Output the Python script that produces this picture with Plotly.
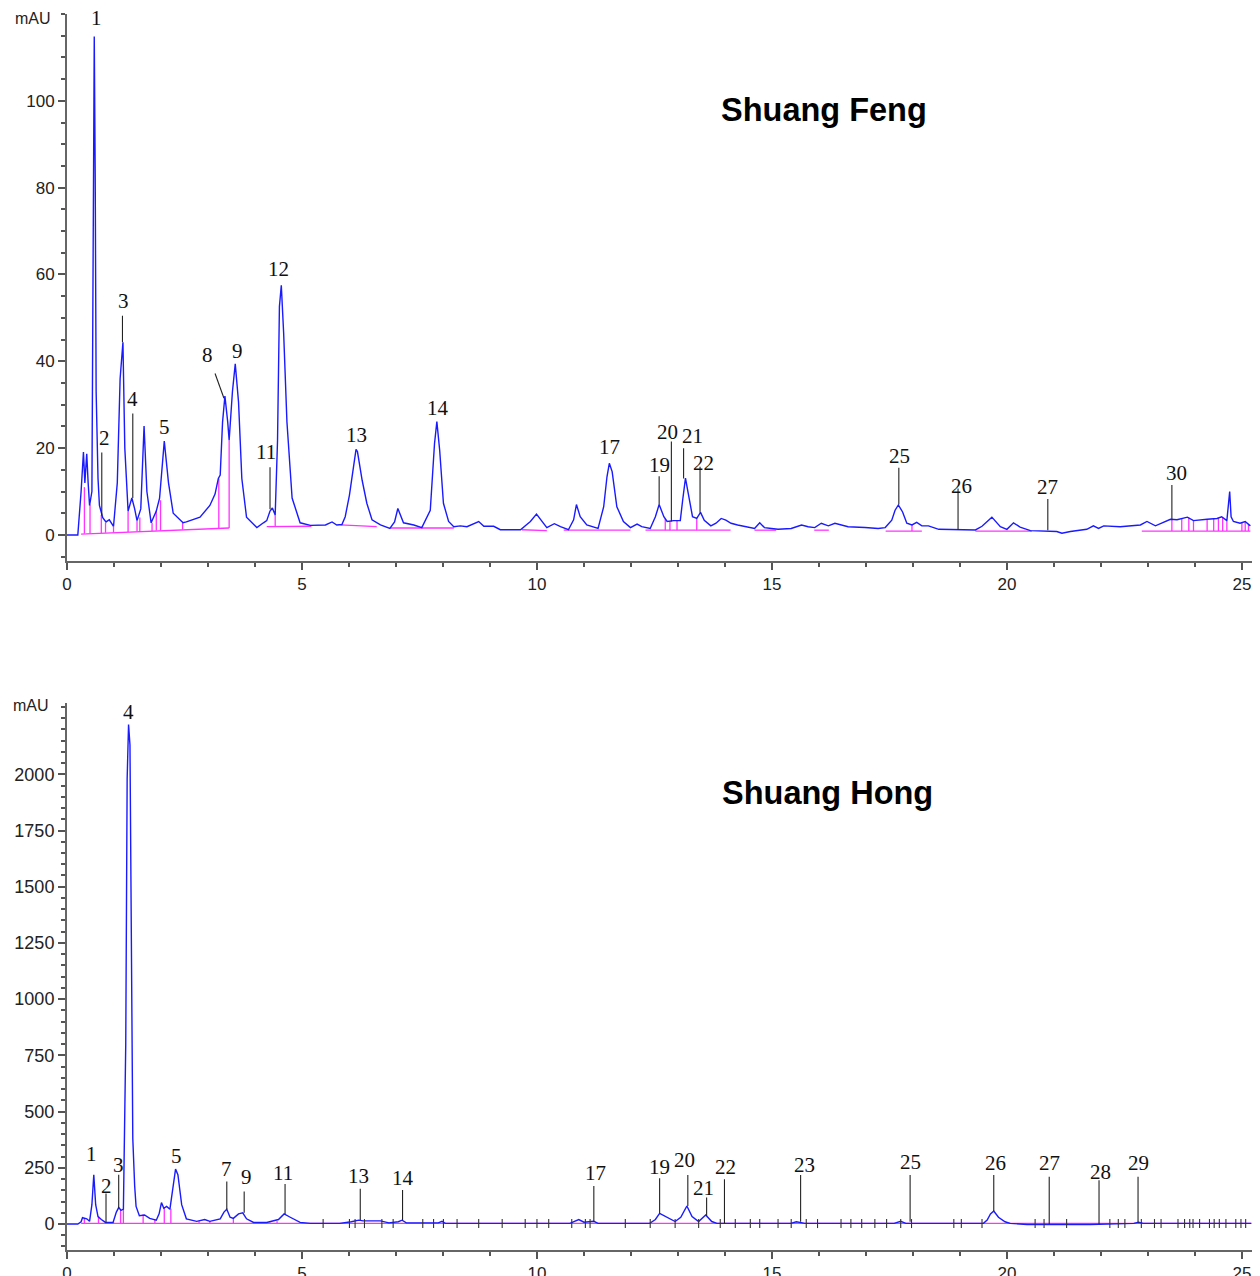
import plotly.graph_objects as go

# ---------------- Top chromatogram: Shuang Feng ----------------
top_t = [0.00, 0.23, 0.30, 0.35, 0.38, 0.42, 0.45, 0.48, 0.53, 0.56, 0.58, 0.60, 0.62, 0.66, 0.69,
         0.76, 0.83, 0.90, 0.99, 1.07, 1.13, 1.19, 1.23, 1.30, 1.38, 1.44, 1.49, 1.57, 1.64, 1.70,
         1.79, 1.90, 1.97, 2.07, 2.16, 2.26, 2.47, 2.54, 2.83, 3.04, 3.15, 3.22, 3.26, 3.31, 3.36,
         3.42, 3.45, 3.52, 3.58, 3.65, 3.72, 3.82, 4.04, 4.18, 4.25, 4.32, 4.37, 4.43, 4.48, 4.52,
         4.56, 4.61, 4.68, 4.79, 4.96, 5.18, 5.50, 5.64, 5.74, 5.85, 5.92, 6.01, 6.10, 6.15, 6.18,
         6.28, 6.38, 6.49, 6.67, 6.87, 6.97, 7.04, 7.16, 7.38, 7.55, 7.73, 7.82, 7.87, 7.93, 8.01,
         8.12, 8.23, 8.37, 8.51, 8.76, 8.87, 9.08, 9.22, 9.65, 9.86, 9.99, 10.11, 10.21, 10.37, 10.50,
         10.67, 10.78, 10.84, 10.92, 11.06, 11.30, 11.42, 11.49, 11.54, 11.60, 11.70, 11.84, 11.99,
         12.13, 12.23, 12.41, 12.52, 12.60, 12.70, 12.77, 12.91, 13.05, 13.10, 13.16, 13.22, 13.31,
         13.40, 13.48, 13.56, 13.70, 13.81, 13.92, 14.02, 14.13, 14.27, 14.42, 14.63, 14.74, 14.84,
         14.99, 15.13, 15.41, 15.63, 15.77, 15.91, 16.05, 16.20, 16.34, 16.62, 16.98, 17.26, 17.41,
         17.55, 17.62, 17.69, 17.78, 17.87, 17.98, 18.08, 18.19, 18.33, 18.55, 18.97, 19.33, 19.47,
         19.68, 19.86, 20.00, 20.14, 20.28, 20.50, 21.06, 21.17, 21.35, 21.70, 21.84, 21.95, 22.06,
         22.41, 22.84, 22.98, 23.16, 23.48, 23.62, 23.84, 23.97, 24.26, 24.47, 24.57, 24.68, 24.74,
         24.77, 24.82, 24.96, 25.07, 25.18]
top_v = [0.0, 0.0, 10.0, 19.1, 12.0, 18.7, 12.0, 6.8, 10.0, 64.0, 114.8, 83.0, 33.0, 13.0, 6.8,
         4.0, 3.0, 3.5, 2.0, 12.0, 36.0, 44.4, 20.0, 5.5, 8.5, 6.0, 3.3, 6.0, 25.1, 10.0,
         2.8, 5.5, 8.5, 21.6, 12.0, 5.0, 2.8, 3.0, 4.1, 6.8, 9.4, 13.0, 13.8, 26.0, 32.0,
         26.0, 21.8, 33.0, 39.4, 30.6, 13.0, 4.1, 1.7, 2.8, 3.3, 5.5, 6.2, 4.6, 21.8, 52.6,
         57.5, 46.5, 26.0, 8.5, 2.8, 2.2, 2.3, 3.0, 2.3, 2.4, 4.2, 9.2, 15.7, 19.7, 19.2,
         12.6, 7.3, 3.5, 2.3, 1.5, 3.0, 6.1, 2.8, 2.3, 1.7, 5.7, 21.0, 26.1, 19.5, 7.3,
         3.1, 1.9, 2.1, 1.9, 3.1, 2.0, 2.0, 1.2, 1.2, 3.1, 4.8, 3.1, 1.7, 2.6, 1.9,
         1.2, 3.5, 7.0, 4.2, 2.3, 1.5, 6.5, 13.4, 16.5, 14.6, 6.5, 3.1, 1.7,
         2.5, 1.9, 1.5, 4.2, 7.0, 4.2, 3.1, 3.3, 3.3, 8.0, 13.1, 9.5, 4.2,
         3.8, 5.2, 3.4, 2.1, 2.7, 3.8, 3.4, 2.7, 2.3, 1.9, 1.5, 2.8, 1.7,
         1.5, 1.3, 1.5, 2.3, 1.9, 1.7, 2.7, 2.1, 2.7, 1.9, 1.7, 1.5, 1.7,
         3.4, 5.7, 6.9, 5.3, 2.7, 2.3, 2.9, 2.1, 2.1, 1.3, 1.2, 1.15, 2.0,
         4.1, 1.9, 1.3, 2.8, 1.8, 1.0, 0.8, 0.4, 0.8, 1.3, 2.1, 1.5, 2.1,
         1.9, 2.3, 3.1, 2.1, 3.6, 3.5, 4.1, 3.3, 3.6, 3.8, 4.2, 3.3, 10.0,
         4.2, 3.1, 2.7, 3.1, 2.1]

# integration baseline segments (start, end) with heights
top_base_x0 = [0.30, 4.25, 5.82, 6.88, 9.68, 10.57, 12.31, 14.63, 15.90, 17.42, 19.33, 22.87]
top_base_x1 = [3.45, 5.20, 6.59, 8.23, 10.21, 11.99, 14.12, 15.09, 16.21, 18.19, 20.53, 25.18]
top_base_y0 = [0.2, 1.9, 2.3, 1.6, 1.2, 1.1, 1.1, 1.1, 1.1, 0.9, 0.9, 0.9]
top_base_y1 = [1.6, 2.0, 1.9, 1.6, 1.0, 1.1, 1.1, 1.1, 1.1, 0.9, 0.9, 0.9]

# peak delimiters (drop lines)
top_drop_x = [0.37, 0.49, 0.73, 0.82, 0.99, 1.30, 1.49, 1.55, 1.81, 1.90, 1.99, 2.46, 3.23, 3.45,
              4.43, 12.73, 12.83, 12.98, 13.40, 17.98,
              23.51, 23.72, 23.87, 23.97, 24.26, 24.40, 24.50, 24.59, 24.68, 25.00, 25.07, 25.14]
top_drop_lo = [0.3, 0.35, 0.45, 0.5, 0.55, 0.7, 0.8, 0.8, 0.9, 1.0, 1.0, 1.2, 1.5, 1.6,
               1.9, 1.1, 1.1, 1.1, 1.1, 0.9,
               0.9, 0.9, 0.9, 0.9, 0.9, 0.9, 0.9, 0.9, 0.9, 0.9, 0.9, 0.9]
top_drop_hi = [11.0, 7.0, 4.6, 2.8, 2.0, 5.5, 3.3, 4.0, 2.8, 5.5, 8.0, 2.8, 13.0, 21.8,
               4.6, 3.8, 3.2, 3.3, 3.8, 2.3,
               3.6, 3.7, 4.0, 3.3, 3.6, 3.7, 3.9, 4.1, 3.3, 2.8, 3.1, 2.5]

# peak labels and leader lines
top_lab = ["1", "2", "3", "4", "5", "8", "9", "11", "12", "13", "14", "17", "19", "20", "21", "22",
           "25", "26", "27", "30"]
top_lab_x = [0.62, 0.79, 1.21, 1.40, 2.08, 3.00, 3.62, 4.23, 4.51, 6.15, 7.89, 11.55, 12.60, 12.77,
             13.30, 13.55, 17.72, 19.04, 20.87, 23.60]
top_lab_y = [119.0, 22.4, 54.0, 31.3, 24.9, 41.5, 42.4, 19.1, 61.3, 23.0, 29.3, 20.3, 16.1, 23.7,
             22.8, 16.6, 18.2, 11.3, 11.0, 14.3]
top_lead_x0 = [None, 0.74, 1.18, 1.40, None, 3.15, None, 4.32, None, None, None, None, 12.60, 12.86,
               13.12, 13.47, 17.70, 18.96, 20.87, 23.51]
top_lead_x1 = [None, 0.74, 1.18, 1.40, None, 3.34, None, 4.32, None, None, None, None, 12.60, 12.86,
               13.12, 13.47, 17.70, 18.96, 20.87, 23.51]
top_lead_y0 = [None, 19.0, 50.5, 28.0, None, 37.2, None, 15.6, None, None, None, None, 13.5, 21.5,
               20.0, 15.7, 15.5, 10.7, 8.3, 11.5]
top_lead_y1 = [None, 4.5, 44.4, 8.5, None, 31.5, None, 5.9, None, None, None, None, 7.0, 3.1,
               13.0, 5.2, 7.0, 1.15, 1.1, 3.6]

# ---------------- Bottom chromatogram: Shuang Hong ----------------
bot_t = [0.00, 0.23, 0.30, 0.33, 0.42, 0.48, 0.53, 0.57, 0.61, 0.66, 0.73, 0.82, 0.98, 1.05, 1.10,
         1.15, 1.20, 1.25, 1.28, 1.31, 1.34, 1.38, 1.40, 1.44, 1.47, 1.54, 1.65, 1.76, 1.90, 1.96,
         2.01, 2.06, 2.12, 2.19, 2.26, 2.31, 2.36, 2.44, 2.54, 2.76, 2.93, 3.04, 3.26, 3.34, 3.40,
         3.47, 3.54, 3.65, 3.74, 3.82, 3.97, 4.25, 4.50, 4.62, 4.75, 4.96, 5.18, 5.80, 6.05, 6.21,
         6.30, 6.67, 6.85, 7.05, 7.13, 7.22, 7.90, 7.98, 8.05, 9.50, 10.70, 10.89, 11.00, 11.21,
         11.30, 12.40, 12.52, 12.61, 12.77, 12.94, 13.06, 13.19, 13.30, 13.44, 13.59, 13.72, 13.83,
         15.40, 15.52, 15.70, 17.60, 17.74, 17.85, 19.50, 19.58, 19.65, 19.72, 19.82, 19.96, 20.07,
         20.43, 21.77, 22.70, 22.80, 22.90, 25.20]
bot_v = [0, 0, 10, 28, 23, 12, 86, 219, 86, 33, 20, 7, 7, 53, 73,
         61, 66, 800, 1980, 2221, 2130, 1083, 380, 169, 78, 37, 40, 25, 17, 45,
         95, 70, 78, 66, 169, 244, 219, 86, 23, 12, 20, 12, 23, 53, 66,
         30, 25, 45, 50, 23, 7, 7, 20, 45, 30, 7, 3, 3, 10, 17,
         14, 14, 5, 10, 17, 5, 5, 12, 3, 3, 3, 20, 8, 12,
         3, 3, 20, 47, 30, 11, 30, 80, 33, 11, 40, 11, 3,
         3, 10, 3, 3, 12, 3, 3, 18, 45, 58, 30, 10, 3,
         -2, -2, 3, 8, 3, 3]

bot_base_x = [0.30, 25.20]
bot_base_y = [3, 3]
bot_drop_x = [0.37, 0.67, 0.82, 0.99, 1.14, 1.20, 1.62, 1.87, 2.07, 2.21, 2.81, 3.04, 3.54,
              4.12, 4.32, 4.47, 5.21]
bot_drop_hi = [25, 33, 7, 7, 62, 66, 42, 20, 75, 68, 12, 12, 25, 7, 7, 12, 3]
bot_tick_x = [5.45, 6.01, 6.13, 6.33, 6.70, 6.94, 7.57, 7.80, 8.01, 8.30, 8.76, 9.26, 9.75, 10.00,
              10.25, 10.74, 11.03, 11.13, 11.88, 12.41, 12.94, 13.44, 13.90, 14.22, 14.54, 14.74,
              15.13, 15.41, 15.73, 15.97, 16.47, 16.68, 16.91, 17.19, 17.44, 17.74, 17.97, 18.87,
              19.03, 19.47, 20.60, 20.79, 21.27, 22.19, 22.37, 22.51, 22.86, 23.14, 23.28, 23.64,
              23.78, 23.89, 23.96, 24.10, 24.31, 24.41, 24.52, 24.66, 24.87, 24.98, 25.08]

bot_lab = ["1", "2", "3", "4", "5", "7", "9", "11", "13", "14", "17", "19", "20", "21", "22", "23",
           "25", "26", "27", "28", "29"]
bot_lab_x = [0.53, 0.85, 1.10, 1.30, 2.33, 3.40, 3.81, 4.59, 6.21, 7.16, 11.24, 12.61, 13.13, 13.54,
             14.01, 15.69, 17.94, 19.75, 20.90, 21.99, 22.81]
bot_lab_y = [310, 169, 261, 2279, 302, 244, 211, 228, 213, 203, 228, 255, 285, 158, 255, 262, 277,
             273, 270, 233, 270]
bot_lead_x = [None, 0.83, 1.10, None, None, 3.40, 3.77, 4.64, 6.24, 7.14, 11.21, 12.61, 13.21, 13.61,
              13.99, 15.61, 17.94, 19.72, 20.90, 21.96, 22.79]
bot_lead_y0 = [None, 136, 219, None, None, 189, 145, 178, 157, 151, 169, 203, 218, 118, 199, 218,
               218, 218, 210, 195, 210]
bot_lead_y1 = [None, 7, 70, None, None, 66, 50, 45, 18, 17, 10, 47, 80, 36, 3, 10, 10, 58, 0, 0, 5]

# ---------------- build figure ----------------
BLUE = "#1a1aff"
MAG = "#ff33ff"
W, H, OFF = 1252, 1268, 8   # page body margin of 8px shifts the figure


def px(xr):
    return (xr - OFF) / W


def py(yr):
    return 1 - (yr - OFF) / H


fig = go.Figure()


def segs(xs0, xs1, ys0, ys1):
    X, Y = [], []
    for a, b, c, d in zip(xs0, xs1, ys0, ys1):
        if a is None:
            continue
        X += [a, b, None]
        Y += [c, d, None]
    return X, Y


# top: baseline + drops
bx, by = segs(top_base_x0, top_base_x1, top_base_y0, top_base_y1)
dx, dy = segs(top_drop_x, top_drop_x, top_drop_lo, top_drop_hi)
fig.add_trace(go.Scatter(x=bx + dx, y=by + dy, mode="lines", line=dict(color=MAG, width=1.3),
                         xaxis="x", yaxis="y", hoverinfo="skip"))
fig.add_trace(go.Scatter(x=top_t, y=top_v, mode="lines", line=dict(color=BLUE, width=1.4),
                         xaxis="x", yaxis="y"))
lx, ly = segs(top_lead_x0, top_lead_x1, top_lead_y0, top_lead_y1)
fig.add_trace(go.Scatter(x=lx, y=ly, mode="lines", line=dict(color="#222222", width=1.1),
                         xaxis="x", yaxis="y", hoverinfo="skip"))

# bottom
dx2, dy2 = segs(bot_drop_x, bot_drop_x, [3] * len(bot_drop_x), bot_drop_hi)
fig.add_trace(go.Scatter(x=bot_base_x + [None] + dx2, y=bot_base_y + [None] + dy2, mode="lines",
                         line=dict(color=MAG, width=1.3), xaxis="x2", yaxis="y2", hoverinfo="skip"))
fig.add_trace(go.Scatter(x=bot_t, y=bot_v, mode="lines", line=dict(color=BLUE, width=1.4),
                         xaxis="x2", yaxis="y2"))
tx, ty = segs(bot_tick_x, bot_tick_x, [-18] * len(bot_tick_x), [22] * len(bot_tick_x))
fig.add_trace(go.Scatter(x=tx, y=ty, mode="lines", line=dict(color="#333333", width=1.1),
                         xaxis="x2", yaxis="y2", hoverinfo="skip"))
lx2, ly2 = segs(bot_lead_x, bot_lead_x, bot_lead_y0, bot_lead_y1)
fig.add_trace(go.Scatter(x=lx2, y=ly2, mode="lines", line=dict(color="#222222", width=1.1),
                         xaxis="x2", yaxis="y2", hoverinfo="skip"))

LABF = dict(family="Liberation Serif, Times New Roman, serif", size=21, color="#111111")
for t, x, y in zip(top_lab, top_lab_x, top_lab_y):
    fig.add_annotation(x=x, y=y, xref="x", yref="y", text=t, showarrow=False, font=LABF,
                       xanchor="center", yanchor="middle")
for t, x, y in zip(bot_lab, bot_lab_x, bot_lab_y):
    fig.add_annotation(x=x, y=y, xref="x2", yref="y2", text=t, showarrow=False, font=LABF,
                       xanchor="center", yanchor="middle")

TITF = dict(family="Liberation Sans, Arial, sans-serif", size=32.5, color="black")
fig.add_annotation(x=px(824), y=py(110), xref="paper", yref="paper",
                   text="<b>Shuang Feng</b>", showarrow=False, font=TITF,
                   xanchor="center", yanchor="middle")
fig.add_annotation(x=px(827), y=py(793), xref="paper", yref="paper",
                   text="<b>Shuang Hong</b>", showarrow=False, font=TITF,
                   xanchor="center", yanchor="middle")
MAUF = dict(family="Liberation Sans, Arial, sans-serif", size=16, color="#222222")
fig.add_annotation(x=px(33), y=py(19), xref="paper", yref="paper", text="mAU",
                   showarrow=False, font=MAUF, xanchor="center", yanchor="middle")
fig.add_annotation(x=px(31), y=py(705), xref="paper", yref="paper", text="mAU",
                   showarrow=False, font=MAUF, xanchor="center", yanchor="middle")

TICKF = dict(family="Liberation Sans, Arial, sans-serif", size=17, color="#222222")
TICKF2 = dict(family="Liberation Sans, Arial, sans-serif", size=18, color="#222222")
xdom = [px(67), px(1256)]
AX = dict(showgrid=False, zeroline=False, showline=True, linecolor="#666666", linewidth=2,
          ticks="outside", ticklen=7, tickwidth=1.5, tickcolor="#555555",
          automargin=False)
MINC = dict(ticks="outside", ticklen=4, tickcolor="#555555")
fig.update_layout(
    width=W, height=H, margin=dict(l=0, r=0, t=0, b=0),
    paper_bgcolor="white", plot_bgcolor="white", showlegend=False,
    xaxis=dict(domain=xdom, range=[0, 25.3], anchor="y", tickvals=[0, 5, 10, 15, 20, 25],
               tickfont=TICKF, minor=dict(dtick=1, tick0=0, **MINC), **AX),
    yaxis=dict(domain=[py(561), py(14)], range=[-6, 120], anchor="x",
               tickvals=[0, 20, 40, 60, 80, 100], tickfont=TICKF,
               minor=dict(dtick=5, tick0=0, **MINC), **AX),
    xaxis2=dict(domain=xdom, range=[0, 25.3], anchor="y2", tickvals=[0, 5, 10, 15, 20, 25],
                tickfont=TICKF, minor=dict(dtick=1, tick0=0, **MINC), **AX),
    yaxis2=dict(domain=[py(1250), py(703)], range=[-115.6, 2317], anchor="x2",
                tickvals=[0, 250, 500, 750, 1000, 1250, 1500, 1750, 2000], tickfont=TICKF2,
                minor=dict(dtick=50, tick0=0, **MINC), **AX),
)

fig.write_html("out.html")
